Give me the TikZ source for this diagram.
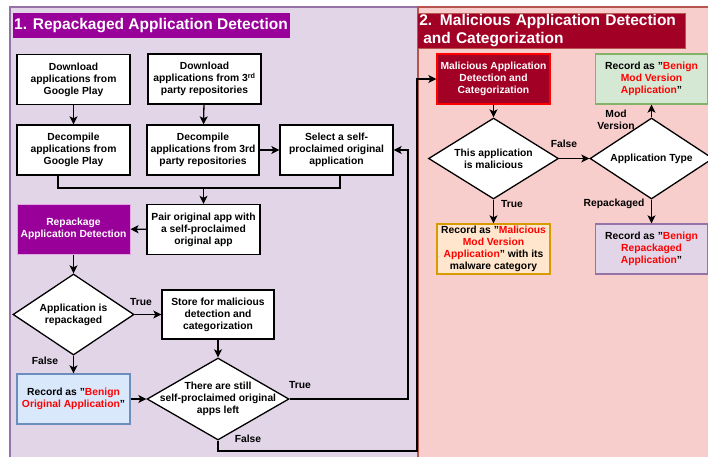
\documentclass[tikz,border=0pt]{standalone}
\usepackage{fontspec}
\setmainfont{Liberation Sans}
\usetikzlibrary{arrows.meta,shapes.geometric}
\definecolor{pafill}{HTML}{E1D5E7}
\definecolor{paline}{HTML}{9673A6}
\definecolor{pbfill}{HTML}{F8CECC}
\definecolor{pbline}{HTML}{B85450}
\definecolor{magt}{HTML}{990099}
\definecolor{magl}{HTML}{E0A8E0}
\definecolor{crim}{HTML}{A20025}
\definecolor{crl}{HTML}{FF0000}
\definecolor{bluef}{HTML}{DAE8FC}
\definecolor{bluel}{HTML}{6C8EBF}
\definecolor{orf}{HTML}{FFE6CC}
\definecolor{orl}{HTML}{D79B00}
\definecolor{grf}{HTML}{D5E8D4}
\definecolor{grl}{HTML}{82B366}
\definecolor{redt}{HTML}{FF0000}
\newcommand{\rdt}[1]{\textcolor{redt}{#1}}
\begin{document}
\begin{tikzpicture}[x=1pt,y=-1pt,
  font=\fontsize{10.3}{12}\selectfont\bfseries,
  box/.style={draw=black, line width=1.3pt, fill=white, minimum width=113pt, minimum height=50pt, inner sep=1pt, align=center},
  dia/.style={diamond, draw=black, line width=1.3pt, fill=white, inner sep=0pt},
  dtxt/.style={align=center, inner sep=0pt},
  arr/.style={line width=1.3pt, -{Stealth[length=8pt,width=8pt,inset=2pt]}},
  ln/.style={line width=1.3pt},
  lbl/.style={inner sep=0pt, align=center},
  ttl/.style={text=white, font=\fontsize{15.5}{18}\selectfont\bfseries, inner sep=0pt}
]
\useasboundingbox (0,0) rectangle (708,456);
\fill[white] (0,0) rectangle (708,456);
% panels
\draw[paline, fill=pafill, line width=1.2pt] (10,7) rectangle (418,470);
\draw[pbline, fill=pbfill, line width=1.2pt] (418,7) rectangle (720,470);
% titles
\node[ttl, fill=magt, minimum width=277pt, minimum height=25pt] (t1) at (151,25.5) {1. Repackaged Application Detection};
\node[ttl, fill=crim, draw=pbline, line width=0.6pt, anchor=north west, text width=264pt, align=left, minimum height=35pt, inner xsep=2pt] (t2) at (417,13) {2. Malicious Application Detection\\\hspace*{4pt}and Categorization};
% section 1 nodes
\node[box] (dlgp) at (73.5,79.5) {Download\\applications from\\Google Play};
\node[box] (dlth) at (204.5,79) {Download\\applications from 3\textsuperscript{rd}\\party repositories};
\node[box] (dcgp) at (73.5,150) {Decompile\\applications from\\Google Play};
\node[box, minimum width=112pt] (dcth) at (203,150) {Decompile\\applications from 3rd\\party repositories};
\node[box] (sel) at (336.5,150) {Select a self-\\proclaimed original\\application};
\node[box] (pair) at (203.5,229.5) {Pair original app with\\a self-proclaimed\\original app};
\node[box, fill=magt, draw=magl, line width=1pt, text=white] (rep) at (73.5,229) {Repackage\\Application Detection};
\node[dia, minimum width=121pt, minimum height=81pt] (d1) at (73.5,314.5) {};
\node[dtxt] (d1t) at (d1.center) {Application is\\repackaged};
\node[box, minimum width=112pt, minimum height=49pt] (store) at (218,314.5) {Store for malicious\\detection and\\categorization};
\node[box, fill=bluef, draw=bluel] (rec1) at (73.5,399) {Record as "\rdt{Benign}\\\rdt{Original Application}"};
\node[dia, minimum width=142pt, minimum height=82pt] (d2) at (218,399) {};
\node[dtxt] (d2t) at (d2.center) {There are still\\self-proclaimed original\\apps left};
% section 2 nodes
\node[box, fill=crim, draw=crl, text=white] (mal) at (493.5,79) {Malicious Application\\Detection and\\Categorization};
\node[dia, minimum width=130pt, minimum height=81pt] (d3) at (493.5,158.5) {};
\node[dtxt] (d3t) at (d3.center) {This application\\is malicious};
\node[box, fill=orf, draw=orl] (recm) at (493.5,249) {Record as "\rdt{Malicious}\\\rdt{Mod Version}\\\rdt{Application}" with its\\malware category};
\node[dia, minimum width=123pt, minimum height=81pt] (d4) at (651.5,158.5) {};
\node[dtxt] (d4t) at (d4.center) {Application Type};
\node[box, fill=grf, draw=grl, minimum width=112pt] (recbm) at (651.5,79) {Record as "\rdt{Benign}\\\rdt{Mod Version}\\\rdt{Application}"};
\node[box, fill=pafill, draw=paline, minimum width=112pt] (recbr) at (651.5,249) {Record as "\rdt{Benign}\\\rdt{Repackaged}\\\rdt{Application}"};
% helper coordinates
\coordinate (jl) at (58,188);
\coordinate (jr) at (340,188);
\coordinate (jm) at (203.5,188);
\coordinate (tx) at (408,0);
\coordinate (fb) at (417,451);
% connectors section 1
\draw[arr] (dlgp) -- (dcgp);
\draw[arr] (dlth) -- (dcth);
\draw[arr] (dcth) -- (sel);
\draw[ln] ([xshift=-15.5pt]dcgp.south) -- (jl) -- (jr) -- ([xshift=3.5pt]sel.south);
\draw[arr] (jm) -- (pair);
\draw[arr] (pair) -- (rep);
\draw[arr] (rep) -- (d1);
\draw[arr] (d1.east) -- (store.west);
\draw[arr] (d1.south) -- (rec1.north);
\draw[arr] (store.south) -- (d2.north);
\draw[arr] (rec1.east) -- (d2.west);
\draw[arr] (d2.east) -- (d2.east -| tx) |- (sel.east);
\draw[arr] (d2.south) |- (fb) |- (mal.west);
% connectors section 2
\draw[arr] (mal) -- (d3);
\draw[arr] (d3.east) -- (d4.west);
\draw[arr] (d3.south) -- (recm.north);
\draw[arr] (d4.north) -- (recbm.south);
\draw[arr] (d4.south) -- (recbr.north);
% labels
\node[lbl] (l1) at (141,302) {True};
\node[lbl] (l2) at (45,360.5) {False};
\node[lbl] (l3) at (300,385) {True};
\node[lbl] (l4) at (248,438.5) {False};
\node[lbl] (l5) at (564,144) {False};
\node[lbl] (l6) at (512,204) {True};
\node[lbl] (l7) at (616,119.5) {Mod\\Version};
\node[lbl] (l8) at (614,204) {Repackaged};
\end{tikzpicture}
\end{document}
